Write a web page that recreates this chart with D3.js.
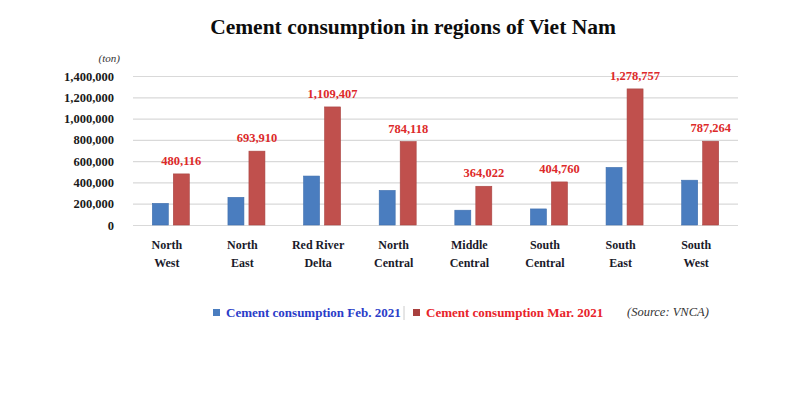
<!DOCTYPE html>
<html>
<head>
<meta charset="utf-8">
<script src="https://cdn.jsdelivr.net/npm/d3@7"></script>
<style>
  body { margin: 0; background: #fff; }
  text { font-family: "Liberation Serif", "Times New Roman", serif; }
</style>
</head>
<body>
<div id="my_dataviz"></div>
<script>
const regions = [["North", "West"], ["North", "East"], ["Red River", "Delta"], ["North", "Central"],
  ["Middle", "Central"], ["South", "Central"], ["South", "East"], ["South", "West"]];
const feb2021 = [203000, 260000, 460000, 325000, 139000, 151000, 541000, 421000];
const mar2021 = [480116, 693910, 1109407, 784118, 364022, 404760, 1278757, 787264];
const yTicks = [0, 200000, 400000, 600000, 800000, 1000000, 1200000, 1400000];

const width = 800, height = 399;
const margin = { top: 76, left: 133, right: 62, bottom: 174 };

const svg = d3.select("#my_dataviz").append("svg")
  .attr("width", width).attr("height", height);

const x = d3.scaleBand().domain(d3.range(regions.length))
  .range([margin.left, width - margin.right]);
const y = d3.scaleLinear().domain([0, 1400000])
  .range([height - margin.bottom, margin.top]);

const fmt = d3.format(",");

// title
svg.append("text")
  .attr("x", 413).attr("y", 34)
  .attr("text-anchor", "middle")
  .attr("font-size", 21.5).attr("font-weight", "bold")
  .attr("fill", "#0d0d0d")
  .text("Cement consumption in regions of Viet Nam");

svg.append("text")
  .attr("x", 120).attr("y", 62)
  .attr("text-anchor", "end")
  .attr("font-size", 11).attr("font-style", "italic")
  .attr("fill", "#333")
  .text("(ton)");

// y axis with grid
const yAxis = d3.axisLeft(y).tickValues(yTicks).tickFormat(fmt)
  .tickSize(-(width - margin.left - margin.right)).tickPadding(19);
const gy = svg.append("g")
  .attr("transform", `translate(${margin.left},0)`)
  .call(yAxis);
gy.select(".domain").remove();
gy.selectAll(".tick line").attr("stroke", "#d9d9d9").attr("stroke-width", 1.2);
gy.selectAll(".tick text")
  .attr("font-family", "Liberation Serif, serif")
  .attr("font-size", 12.5).attr("font-weight", "bold").attr("fill", "#1a1a1a");

const barW = 16, gap = 5;

svg.append("g").selectAll("rect")
  .data(feb2021).join("rect")
  .attr("x", (d, i) => x(i) + x.bandwidth() / 2 - gap / 2 - barW)
  .attr("y", d => y(d))
  .attr("width", barW)
  .attr("height", d => y(0) - y(d))
  .attr("fill", "#4a7dbf")
  .attr("stroke", "#3f6fae").attr("stroke-width", 0.6);

svg.append("g").selectAll("rect")
  .data(mar2021).join("rect")
  .attr("x", (d, i) => x(i) + x.bandwidth() / 2 + gap / 2)
  .attr("y", d => y(d))
  .attr("width", barW)
  .attr("height", d => y(0) - y(d))
  .attr("fill", "#c0504d")
  .attr("stroke", "#a94442").attr("stroke-width", 0.6);

// data labels
svg.append("g").selectAll("text")
  .data(mar2021).join("text")
  .attr("x", (d, i) => x(i) + x.bandwidth() / 2 + gap / 2 + barW / 2)
  .attr("y", d => y(d) - 9)
  .attr("text-anchor", "middle")
  .attr("font-size", 12.5).attr("font-weight", "bold")
  .attr("fill", "#dd2a2a")
  .text(d => fmt(d));

// category labels
const cat = svg.append("g").selectAll("text")
  .data(regions).join("text")
  .attr("text-anchor", "middle")
  .attr("font-size", 12).attr("font-weight", "bold")
  .attr("fill", "#1a1a2a");
cat.each(function (d, i) {
  const t = d3.select(this);
  d.forEach((line, k) => {
    t.append("tspan")
      .attr("x", x(i) + x.bandwidth() / 2 - 4)
      .attr("y", 249 + k * 18)
      .text(line);
  });
});

// legend
const legend = svg.append("g");
legend.append("rect").attr("x", 213).attr("y", 309).attr("width", 7).attr("height", 7).attr("fill", "#4a7dbf");
legend.append("text").attr("x", 226).attr("y", 317)
  .attr("font-size", 13).attr("font-weight", "bold").attr("fill", "#2a3cc8")
  .text("Cement consumption Feb. 2021");
legend.append("line").attr("x1", 404).attr("x2", 404).attr("y1", 306).attr("y2", 320)
  .attr("stroke", "#ccc");
legend.append("rect").attr("x", 413).attr("y", 309).attr("width", 7).attr("height", 7).attr("fill", "#a8403e");
legend.append("text").attr("x", 426).attr("y", 317)
  .attr("font-size", 13).attr("font-weight", "bold").attr("fill", "#e8232a")
  .text("Cement consumption Mar. 2021");
legend.append("text").attr("x", 627).attr("y", 316)
  .attr("font-size", 12.5).attr("font-style", "italic").attr("fill", "#333")
  .text("(Source: VNCA)");
</script>
</body>
</html>
